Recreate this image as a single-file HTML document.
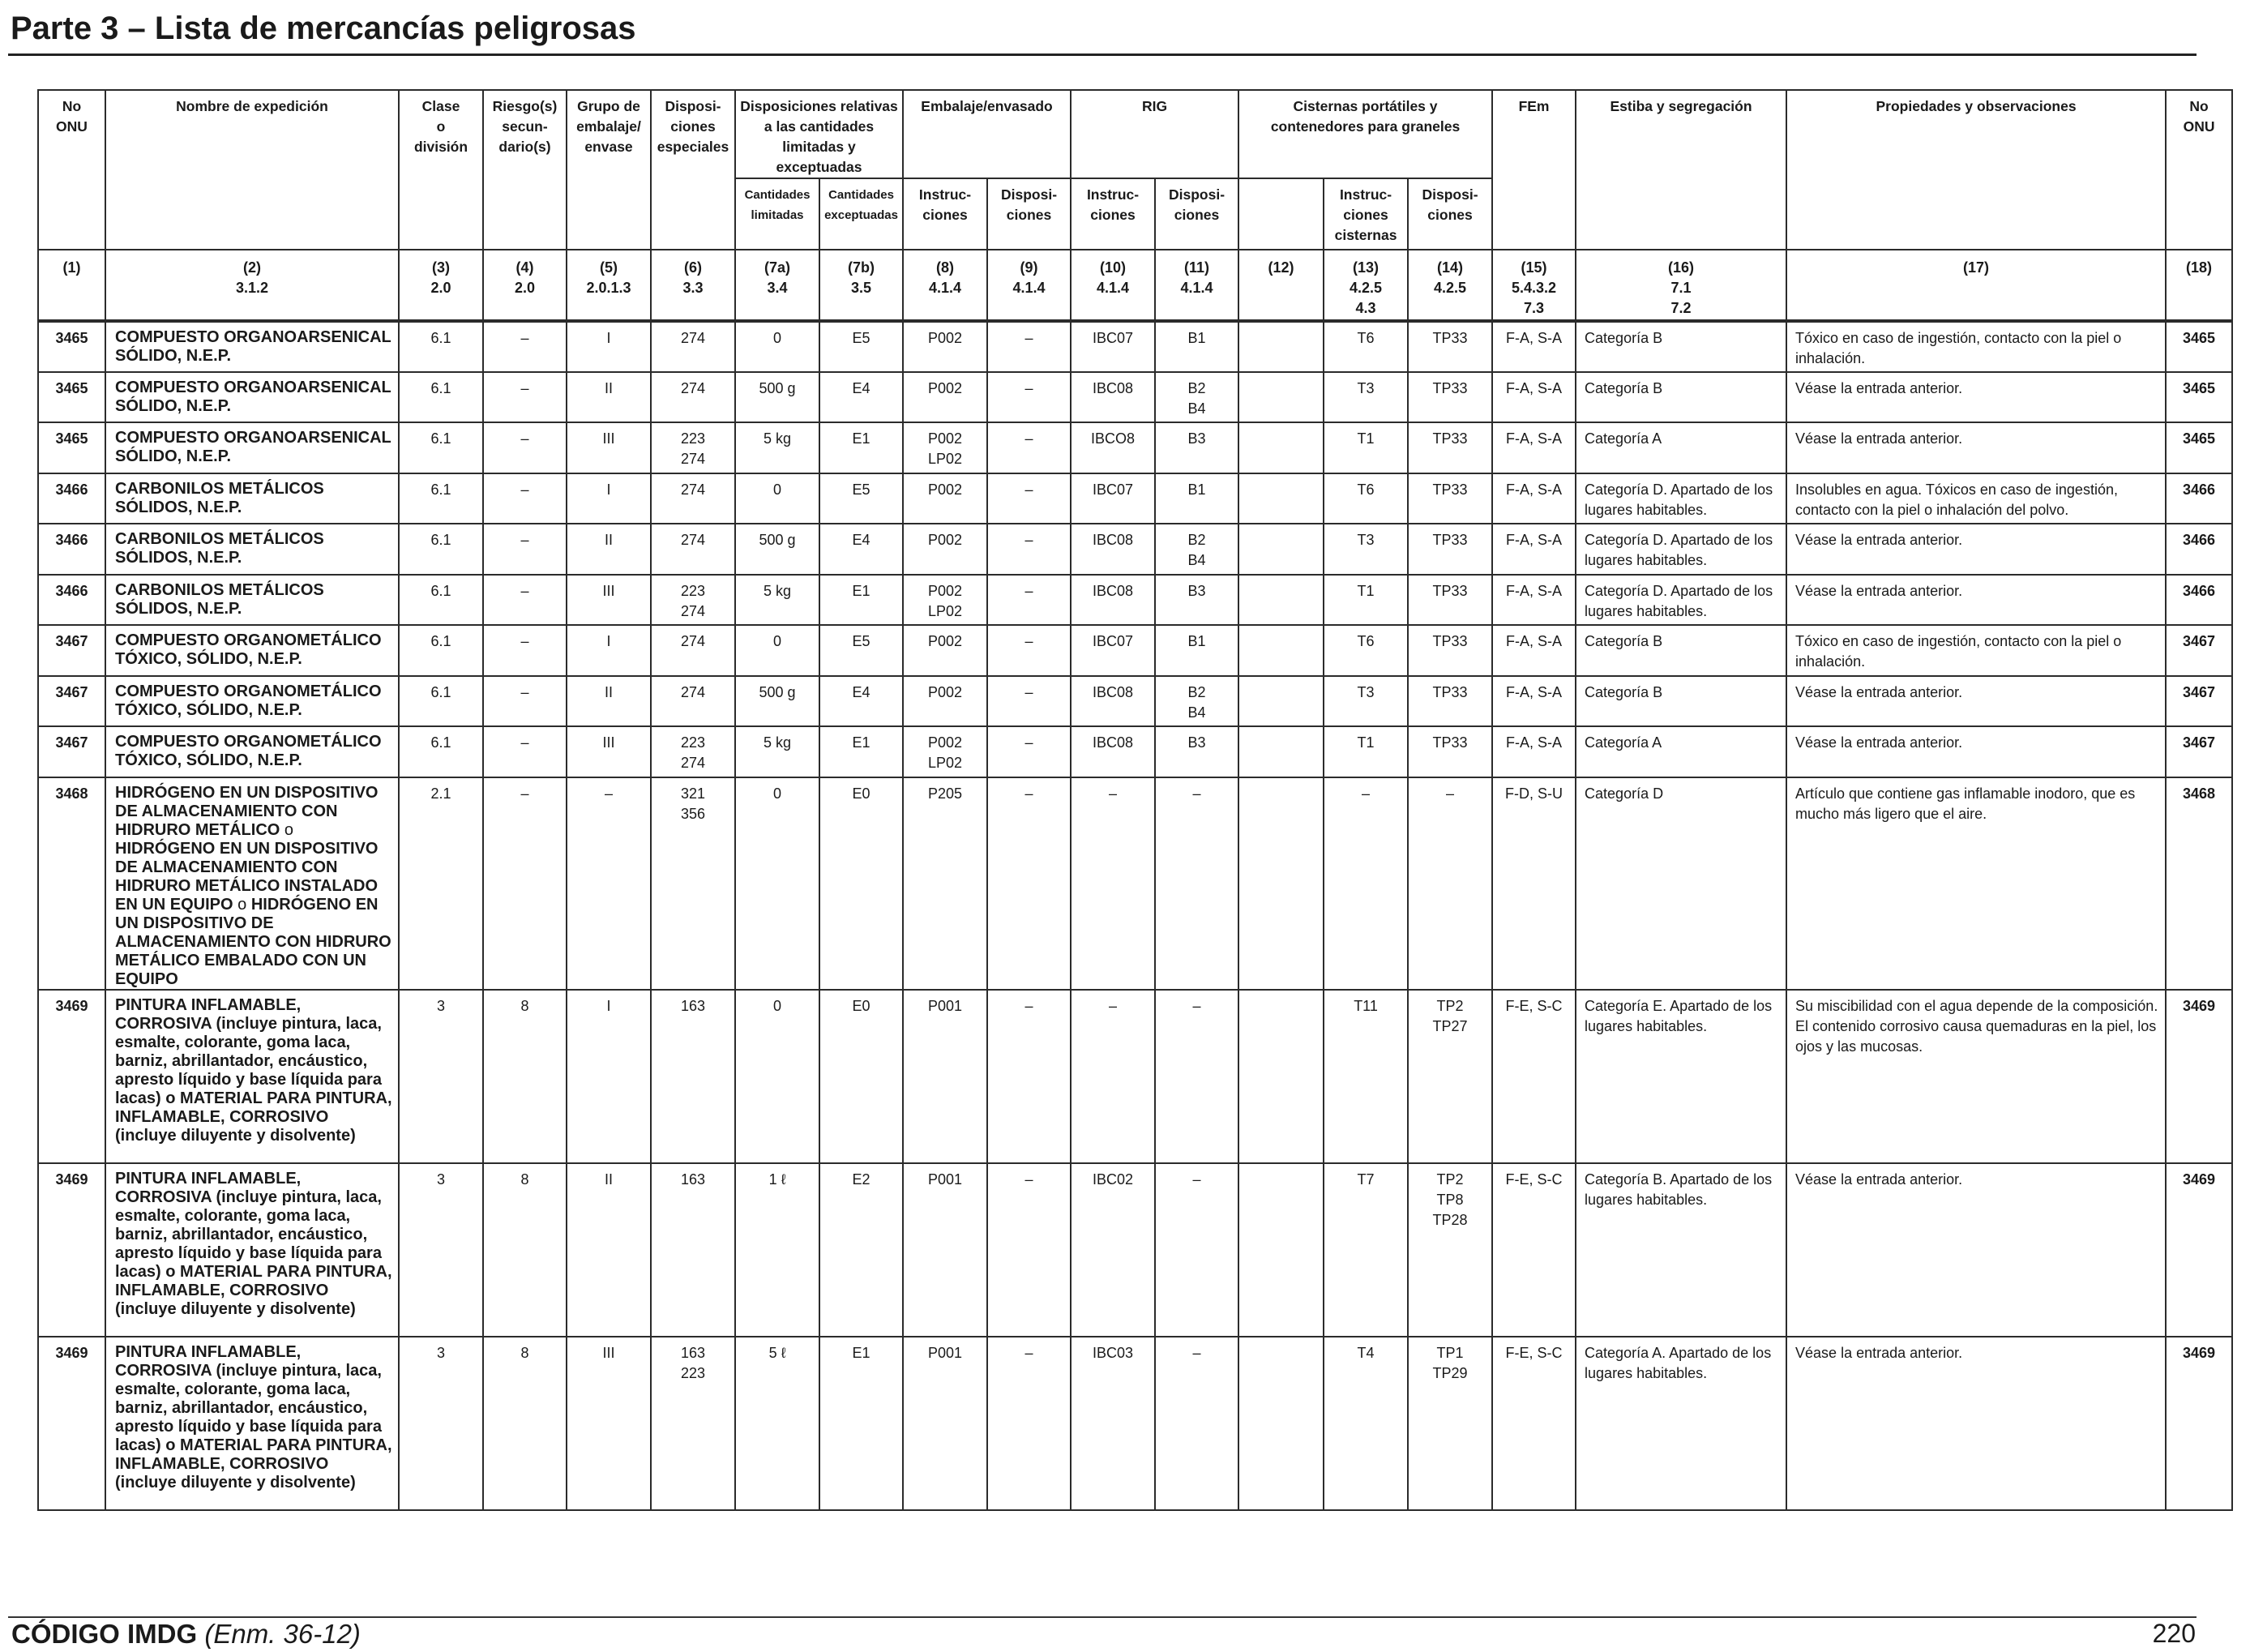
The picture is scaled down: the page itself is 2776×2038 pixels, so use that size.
<!DOCTYPE html>
<html><head><meta charset="utf-8">
<style>
html,body{margin:0;padding:0;background:#fff;}
body{width:2776px;height:2038px;position:relative;overflow:hidden;font-family:"Liberation Sans",Arial,sans-serif;color:#1a1a1a;}
#title{position:absolute;left:13px;top:13px;font-size:40px;font-weight:bold;white-space:nowrap;}
#rule-top{position:absolute;left:10px;top:66px;width:2700px;height:3px;background:#222;}
#rule-bot{position:absolute;left:10px;top:1994px;width:2700px;height:2px;background:#333;}
#foot{position:absolute;left:14px;top:1997px;font-size:33px;white-space:nowrap;}
#pnum{position:absolute;right:67px;top:1997px;font-size:32px;}
table{position:absolute;left:46px;top:110px;border-collapse:collapse;table-layout:fixed;width:2702px;}
td{border:2px solid #2b2b2b;vertical-align:top;text-align:center;padding:7px 4px 0 4px;font-size:19px;line-height:25px;overflow:hidden;}
.n td,.hd td{font-family:"Liberation Sans Narrow","Liberation Sans",sans-serif;}
.hd td{font-weight:bold;font-size:18px;line-height:25px;}
.hd2 td{font-size:18px;}
.sm{font-size:15px;line-height:24px;}
.num td{font-weight:bold;font-size:18px;line-height:25px;border-bottom:4px solid #2b2b2b;padding-top:9px;}
td.nm{text-align:left;padding-left:11px;padding-right:6px;font-family:"Liberation Sans",sans-serif !important;font-weight:bold;font-size:20px !important;letter-spacing:0 !important;line-height:23px;}
td.l{text-align:left;padding-left:10px;}
td.b{font-weight:bold;}
</style></head>
<body>
<div id="title">Parte 3 – Lista de mercancías peligrosas</div>
<div id="rule-top"></div>
<table id="tbl">
<colgroup>
<col style="width:83px"><col style="width:362px"><col style="width:104px"><col style="width:103px"><col style="width:104px"><col style="width:104px"><col style="width:104px"><col style="width:103px"><col style="width:104px"><col style="width:103px"><col style="width:104px"><col style="width:103px"><col style="width:105px"><col style="width:104px"><col style="width:104px"><col style="width:103px"><col style="width:260px"><col style="width:468px"><col style="width:82px">
</colgroup>
<tbody class="hd">
<tr style="height:87px">
<td rowspan="2" class="b">No<br>ONU</td>
<td rowspan="2">Nombre de expedición</td>
<td rowspan="2">Clase<br>o<br>división</td>
<td rowspan="2">Riesgo(s)<br>secun-<br>dario(s)</td>
<td rowspan="2">Grupo de<br>embalaje/<br>envase</td>
<td rowspan="2">Disposi-<br>ciones<br>especiales</td>
<td colspan="2">Disposiciones relativas<br>a las cantidades<br>limitadas y exceptuadas</td>
<td colspan="2">Embalaje/envasado</td>
<td colspan="2">RIG</td>
<td colspan="3">Cisternas portátiles y<br>contenedores para graneles</td>
<td rowspan="2">FEm</td>
<td rowspan="2">Estiba y segregación</td>
<td rowspan="2">Propiedades y observaciones</td>
<td rowspan="2">No<br>ONU</td>
</tr>
<tr style="height:88px" class="hd2">
<td class="sm">Cantidades<br>limitadas</td>
<td class="sm">Cantidades<br>exceptuadas</td>
<td>Instruc-<br>ciones</td>
<td>Disposi-<br>ciones</td>
<td>Instruc-<br>ciones</td>
<td>Disposi-<br>ciones</td>
<td></td>
<td>Instruc-<br>ciones<br>cisternas</td>
<td>Disposi-<br>ciones</td>
</tr>
</tbody>
<tbody class="num">
<tr style="height:88px">
<td>(1)</td><td>(2)<br>3.1.2</td><td>(3)<br>2.0</td><td>(4)<br>2.0</td><td>(5)<br>2.0.1.3</td><td>(6)<br>3.3</td><td>(7a)<br>3.4</td><td>(7b)<br>3.5</td><td>(8)<br>4.1.4</td><td>(9)<br>4.1.4</td><td>(10)<br>4.1.4</td><td>(11)<br>4.1.4</td><td>(12)</td><td>(13)<br>4.2.5<br>4.3</td><td>(14)<br>4.2.5</td><td>(15)<br>5.4.3.2<br>7.3</td><td>(16)<br>7.1<br>7.2</td><td>(17)</td><td>(18)</td>
</tr>
</tbody>
<tbody id="body" class="n"></tbody>
</table>
<div id="rule-bot"></div>
<div id="foot"><b>CÓDIGO IMDG</b> <i>(Enm. 36-12)</i></div>
<div id="pnum">220</div>
<script>
const N1="COMPUESTO ORGANOARSENICAL SÓLIDO, N.E.P.";
const N2="CARBONILOS METÁLICOS SÓLIDOS, N.E.P.";
const N3="COMPUESTO ORGANOMETÁLICO TÓXICO, SÓLIDO, N.E.P.";
const N4="HIDRÓGENO EN UN DISPOSITIVO DE ALMACENAMIENTO CON HIDRURO METÁLICO <span style='font-weight:normal'>o</span> HIDRÓGENO EN UN DISPOSITIVO DE ALMACENAMIENTO CON HIDRURO METÁLICO INSTALADO EN UN EQUIPO <span style='font-weight:normal'>o</span> HIDRÓGENO EN UN DISPOSITIVO DE ALMACENAMIENTO CON HIDRURO METÁLICO EMBALADO CON UN EQUIPO";
const N5="PINTURA INFLAMABLE, CORROSIVA (incluye pintura, laca, esmalte, colorante, goma laca, barniz, abrillantador, encáustico, apresto líquido y base líquida para lacas) o MATERIAL PARA PINTURA, INFLAMABLE, CORROSIVO (incluye diluyente y disolvente)";
const V="Véase la entrada anterior.";
const T1="Tóxico en caso de ingestión, contacto con la piel o inhalación.";
const CD="Categoría D. Apartado de los lugares habitables.";
const rowHeights=[63,62,63,62,63,62,63,62,63,238,214,214,214];
const rows=[
["3465",N1,"6.1","–","I","274","0","E5","P002","–","IBC07","B1","","T6","TP33","F-A, S-A","Categoría B",T1,"3465"],
["3465",N1,"6.1","–","II","274","500 g","E4","P002","–","IBC08","B2<br>B4","","T3","TP33","F-A, S-A","Categoría B",V,"3465"],
["3465",N1,"6.1","–","III","223<br>274","5 kg","E1","P002<br>LP02","–","IBCO8","B3","","T1","TP33","F-A, S-A","Categoría A",V,"3465"],
["3466",N2,"6.1","–","I","274","0","E5","P002","–","IBC07","B1","","T6","TP33","F-A, S-A",CD,"Insolubles en agua. Tóxicos en caso de ingestión, contacto con la piel o inhalación del polvo.","3466"],
["3466",N2,"6.1","–","II","274","500 g","E4","P002","–","IBC08","B2<br>B4","","T3","TP33","F-A, S-A",CD,V,"3466"],
["3466",N2,"6.1","–","III","223<br>274","5 kg","E1","P002<br>LP02","–","IBC08","B3","","T1","TP33","F-A, S-A",CD,V,"3466"],
["3467",N3,"6.1","–","I","274","0","E5","P002","–","IBC07","B1","","T6","TP33","F-A, S-A","Categoría B",T1,"3467"],
["3467",N3,"6.1","–","II","274","500 g","E4","P002","–","IBC08","B2<br>B4","","T3","TP33","F-A, S-A","Categoría B",V,"3467"],
["3467",N3,"6.1","–","III","223<br>274","5 kg","E1","P002<br>LP02","–","IBC08","B3","","T1","TP33","F-A, S-A","Categoría A",V,"3467"],
["3468",N4,"2.1","–","–","321<br>356","0","E0","P205","–","–","–","","–","–","F-D, S-U","Categoría D","Artículo que contiene gas inflamable inodoro, que es mucho más ligero que el aire.","3468"],
["3469",N5,"3","8","I","163","0","E0","P001","–","–","–","","T11","TP2<br>TP27","F-E, S-C","Categoría E. Apartado de los lugares habitables.","Su miscibilidad con el agua depende de la composición. El contenido corrosivo causa quemaduras en la piel, los ojos y las mucosas.","3469"],
["3469",N5,"3","8","II","163","1 ℓ","E2","P001","–","IBC02","–","","T7","TP2<br>TP8<br>TP28","F-E, S-C","Categoría B. Apartado de los lugares habitables.",V,"3469"],
["3469",N5,"3","8","III","163<br>223","5 ℓ","E1","P001","–","IBC03","–","","T4","TP1<br>TP29","F-E, S-C","Categoría A. Apartado de los lugares habitables.",V,"3469"]
];
const cellNames=["un-number","shipping-name","class","subsidiary-risk","packing-group","special-provisions","limited-qty","excepted-qty","packing-instruction","packing-provision","ibc-instruction","ibc-provision","col12","tank-instruction","tank-provision","ems","stowage","properties","un-number-right"];
const body=document.getElementById('body');
rows.forEach((r,i)=>{
  const tr=document.createElement('tr');
  
  
  tr.style.height=rowHeights[i]+'px';
  r.forEach((v,j)=>{
    const td=document.createElement('td');
    
    
    td.innerHTML=v;
    if(j===0||j===18) td.className='b';
    if(j===1) td.className='nm';
    if(j===16||j===17) td.className='l';
    tr.appendChild(td);
  });
  body.appendChild(tr);
});
(function(){
  const c=document.createElement('canvas').getContext('2d');
  c.font='20px "Liberation Sans Narrow", monospace';const a=c.measureText('abcdefghijklm').width;
  c.font='20px monospace';const b=c.measureText('abcdefghijklm').width;
  if(Math.abs(a-b)<0.5){
    const s=document.createElement('style');
    s.textContent='.n td{font-size:18px;letter-spacing:0;} .hd td{font-size:17.5px;} .sm{font-size:15px !important;}';
    document.head.appendChild(s);
  }
})();
</script>
</body></html>
